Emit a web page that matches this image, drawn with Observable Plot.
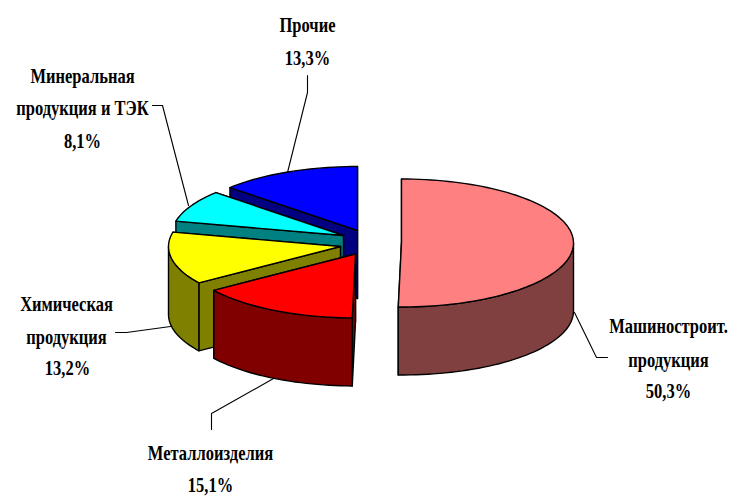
<!DOCTYPE html>
<html><head><meta charset="utf-8">
<style>html,body{margin:0;padding:0;background:#fff}svg{display:block}</style>
<script src="https://cdn.jsdelivr.net/npm/d3@7"></script>
<script src="https://cdn.jsdelivr.net/npm/@observablehq/plot@0.6"></script>
</head><body>
<script>
// Data
const categories = ["Машиностроит. продукция","Металлоизделия","Химическая продукция","Минеральная продукция и ТЭК","Прочие"];
const shares = [50.3,15.1,13.2,8.1,13.3];
const topColors = ["#FF8080","#FF0000","#FFFF00","#00FFFF","#0000FF"];
const wallColors = ["#804040","#800000","#808000","#008080","#000080"];

// Layout of the exploded 3-D pie
const apexX = [401,355,340,343,357];
const apexY = [242.5,253.5,246,235,230];
const rx = 172, ry = 64, depth = 68;

const labels = [
  {t:"Прочие",x:307,y:24},{t:"13,3%",x:307,y:57},
  {t:"Минеральная",x:82,y:75},{t:"продукция и ТЭК",x:82,y:107},{t:"8,1%",x:82,y:140},
  {t:"Химическая",x:66,y:303},{t:"продукция",x:66,y:336},{t:"13,2%",x:67,y:367},
  {t:"Металлоизделия",x:210,y:452},{t:"15,1%",x:210,y:484},
  {t:"Машиностроит.",x:668,y:325},{t:"продукция",x:668,y:359},{t:"50,3%",x:668,y:390}
];
const leaders = [
  [[307,75],[307,92],[287,172]],
  [[152,105],[162,105],[188,205]],
  [[115,332],[126,332],[170,326]],
  [[211,429],[211,413],[273,378]],
  [[607,357],[596,357],[574,312]]
];

const rad = d => d*Math.PI/180;
const cum = d3.cumsum(shares);
const pt = (i,deg,dz=0) => [apexX[i]+rx*Math.sin(rad(deg)), apexY[i]-ry*Math.cos(rad(deg))+dz];
const arc = (i,a0,a1,dz=0) => {
  const n = Math.max(2,Math.ceil(Math.abs(a1-a0)/2)), out=[];
  for(let k=0;k<=n;k++) out.push(pt(i,a0+(a1-a0)*k/n,dz));
  return out;
};
const polys = [];
const add = (pts,fill) => polys.push({pts:[...pts,pts[0]],fill});
// painter's order: back slices first
[4,3,2,1,0].forEach(i=>{
  const a0 = (i?cum[i-1]:0)*3.6, a1 = cum[i]*3.6;
  const A=[apexX[i],apexY[i]], Ad=[apexX[i],apexY[i]+depth];
  add([A,pt(i,a1),pt(i,a1,depth),Ad],wallColors[i]);
  add([A,pt(i,a0),pt(i,a0,depth),Ad],wallColors[i]);
  const f0=Math.max(a0,90), f1=Math.min(a1,270);
  if(f1>f0) add([...arc(i,f0,f1),...arc(i,f1,f0,depth)],wallColors[i]);
  add([A,...arc(i,a0,a1)],topColors[i]);
});

const marks = [
  ...leaders.map(l=>Plot.line(l,{x:d=>d[0],y:d=>d[1],stroke:"#000",strokeWidth:1.1})),
  ...polys.map(p=>Plot.line(p.pts,{x:d=>d[0],y:d=>d[1],fill:p.fill,stroke:"#000",strokeWidth:1.4})),
  Plot.text(labels,{x:"x",y:"y",text:"t",fontFamily:"Liberation Serif",fontWeight:"bold",fontSize:22,fill:"#000",textAnchor:"middle",lineAnchor:"middle"})
];
const chart = Plot.plot({
  width:731,height:496,margin:0,
  x:{domain:[0,731],range:[0,731],axis:null},
  y:{domain:[0,496],range:[0,496],axis:null},
  style:{background:"#fff"},
  marks
});
document.body.append(chart);
// the reference's lettering is horizontally condensed
chart.querySelectorAll('g[aria-label="text"] text').forEach(t=>{
  const tr=t.getAttribute("transform")||"";
  t.setAttribute("transform",tr+" scale(0.75,1)");
});
</script>
</body></html>
